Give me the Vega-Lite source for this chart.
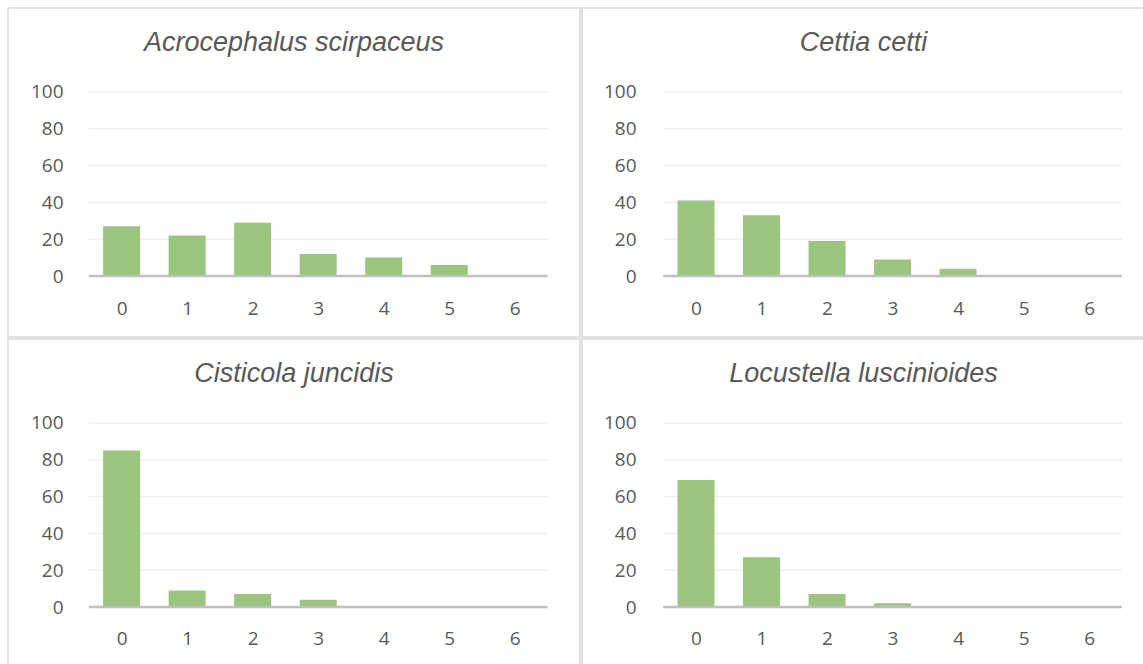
{
  "$schema": "https://vega.github.io/schema/vega-lite/v6.json",
  "padding": {"left": 7, "top": 7, "right": 0, "bottom": 0},
  "background": "white",
  "spacing": 0,
  "columns": 2,
  "data": {"values": [
    {"sp": "Acrocephalus scirpaceus", "k": 0, "v": 27},
    {"sp": "Acrocephalus scirpaceus", "k": 1, "v": 22},
    {"sp": "Acrocephalus scirpaceus", "k": 2, "v": 29},
    {"sp": "Acrocephalus scirpaceus", "k": 3, "v": 12},
    {"sp": "Acrocephalus scirpaceus", "k": 4, "v": 10},
    {"sp": "Acrocephalus scirpaceus", "k": 5, "v": 6},
    {"sp": "Acrocephalus scirpaceus", "k": 6, "v": 0},
    {"sp": "Cettia cetti", "k": 0, "v": 41},
    {"sp": "Cettia cetti", "k": 1, "v": 33},
    {"sp": "Cettia cetti", "k": 2, "v": 19},
    {"sp": "Cettia cetti", "k": 3, "v": 9},
    {"sp": "Cettia cetti", "k": 4, "v": 4},
    {"sp": "Cettia cetti", "k": 5, "v": 0},
    {"sp": "Cettia cetti", "k": 6, "v": 0},
    {"sp": "Cisticola juncidis", "k": 0, "v": 85},
    {"sp": "Cisticola juncidis", "k": 1, "v": 9},
    {"sp": "Cisticola juncidis", "k": 2, "v": 7},
    {"sp": "Cisticola juncidis", "k": 3, "v": 4},
    {"sp": "Cisticola juncidis", "k": 4, "v": 0.5},
    {"sp": "Cisticola juncidis", "k": 5, "v": 0},
    {"sp": "Cisticola juncidis", "k": 6, "v": 0},
    {"sp": "Locustella luscinioides", "k": 0, "v": 69},
    {"sp": "Locustella luscinioides", "k": 1, "v": 27},
    {"sp": "Locustella luscinioides", "k": 2, "v": 7},
    {"sp": "Locustella luscinioides", "k": 3, "v": 2},
    {"sp": "Locustella luscinioides", "k": 4, "v": 0.5},
    {"sp": "Locustella luscinioides", "k": 5, "v": 0},
    {"sp": "Locustella luscinioides", "k": 6, "v": 0}
  ]},
  "concat": [
    {
      "width": 572, "height": 329,
      "title": {"text": "Acrocephalus scirpaceus", "offset": -70, "baseline": "alphabetic"},
      "layer": [
        {"data": {"values": [{"g": 20}, {"g": 40}, {"g": 60}, {"g": 80}, {"g": 100}]},
         "mark": {"type": "rule", "color": "#efefef", "strokeWidth": 1.5},
         "encoding": {"y": {"field": "g", "type": "quantitative"}, "x": {"datum": -0.5, "type": "quantitative"}, "x2": {"datum": 6.5}}},
        {"transform": [{"filter": "datum.sp === 'Acrocephalus scirpaceus'"}],
         "mark": {"type": "bar", "width": 37, "color": "#9BC57E", "orient": "vertical"},
         "encoding": {
           "x": {"field": "k", "type": "quantitative", "scale": {"domain": [-1.657, 6.919], "nice": false, "zero": false}, "axis": {"values": [0, 1, 2, 3, 4, 5, 6], "format": "d", "offset": -38, "title": null}},
           "y": {"field": "v", "type": "quantitative", "stack": null, "scale": {"domain": [-33.15, 145.65], "nice": false, "zero": false}, "axis": {"values": [0, 20, 40, 60, 80, 100], "format": "d", "offset": -59, "title": null}},
           "y2": {"datum": 0}}},
        {"data": {"values": [{}]},
         "mark": {"type": "rule", "color": "#bfbfbf", "strokeWidth": 2.5},
         "encoding": {"y": {"datum": 0, "type": "quantitative"}, "x": {"datum": -0.5, "type": "quantitative"}, "x2": {"datum": 6.5}}}
      ]
    },
    {
      "width": 563, "height": 329,
      "title": {"text": "Cettia cetti", "offset": -70, "baseline": "alphabetic"},
      "layer": [
        {"data": {"values": [{"g": 20}, {"g": 40}, {"g": 60}, {"g": 80}, {"g": 100}]},
         "mark": {"type": "rule", "color": "#efefef", "strokeWidth": 1.5},
         "encoding": {"y": {"field": "g", "type": "quantitative"}, "x": {"datum": -0.5, "type": "quantitative"}, "x2": {"datum": 6.5}}},
        {"transform": [{"filter": "datum.sp === 'Cettia cetti'"}],
         "mark": {"type": "bar", "width": 37, "color": "#9BC57E", "orient": "vertical"},
         "encoding": {
           "x": {"field": "k", "type": "quantitative", "scale": {"domain": [-1.664, 6.777], "nice": false, "zero": false}, "axis": {"values": [0, 1, 2, 3, 4, 5, 6], "format": "d", "offset": -38, "title": null}},
           "y": {"field": "v", "type": "quantitative", "stack": null, "scale": {"domain": [-33.15, 145.65], "nice": false, "zero": false}, "axis": {"values": [0, 20, 40, 60, 80, 100], "format": "d", "offset": -58, "title": null}},
           "y2": {"datum": 0}}},
        {"data": {"values": [{}]},
         "mark": {"type": "rule", "color": "#bfbfbf", "strokeWidth": 2.5},
         "encoding": {"y": {"datum": 0, "type": "quantitative"}, "x": {"datum": -0.5, "type": "quantitative"}, "x2": {"datum": 6.5}}}
      ]
    },
    {
      "width": 572, "height": 326,
      "title": {"text": "Cisticola juncidis", "offset": -70, "baseline": "alphabetic"},
      "layer": [
        {"data": {"values": [{"g": 20}, {"g": 40}, {"g": 60}, {"g": 80}, {"g": 100}]},
         "mark": {"type": "rule", "color": "#efefef", "strokeWidth": 1.5},
         "encoding": {"y": {"field": "g", "type": "quantitative"}, "x": {"datum": -0.5, "type": "quantitative"}, "x2": {"datum": 6.5}}},
        {"transform": [{"filter": "datum.sp === 'Cisticola juncidis'"}],
         "mark": {"type": "bar", "width": 37, "color": "#9BC57E", "orient": "vertical"},
         "encoding": {
           "x": {"field": "k", "type": "quantitative", "scale": {"domain": [-1.657, 6.919], "nice": false, "zero": false}, "axis": {"values": [0, 1, 2, 3, 4, 5, 6], "format": "d", "offset": -36, "title": null}},
           "y": {"field": "v", "type": "quantitative", "stack": null, "scale": {"domain": [-31.52, 145.65], "nice": false, "zero": false}, "axis": {"values": [0, 20, 40, 60, 80, 100], "format": "d", "offset": -59, "title": null}},
           "y2": {"datum": 0}}},
        {"data": {"values": [{}]},
         "mark": {"type": "rule", "color": "#bfbfbf", "strokeWidth": 2.5},
         "encoding": {"y": {"datum": 0, "type": "quantitative"}, "x": {"datum": -0.5, "type": "quantitative"}, "x2": {"datum": 6.5}}}
      ]
    },
    {
      "width": 563, "height": 326,
      "title": {"text": "Locustella luscinioides", "offset": -70, "baseline": "alphabetic"},
      "layer": [
        {"data": {"values": [{"g": 20}, {"g": 40}, {"g": 60}, {"g": 80}, {"g": 100}]},
         "mark": {"type": "rule", "color": "#efefef", "strokeWidth": 1.5},
         "encoding": {"y": {"field": "g", "type": "quantitative"}, "x": {"datum": -0.5, "type": "quantitative"}, "x2": {"datum": 6.5}}},
        {"transform": [{"filter": "datum.sp === 'Locustella luscinioides'"}],
         "mark": {"type": "bar", "width": 37, "color": "#9BC57E", "orient": "vertical"},
         "encoding": {
           "x": {"field": "k", "type": "quantitative", "scale": {"domain": [-1.664, 6.777], "nice": false, "zero": false}, "axis": {"values": [0, 1, 2, 3, 4, 5, 6], "format": "d", "offset": -36, "title": null}},
           "y": {"field": "v", "type": "quantitative", "stack": null, "scale": {"domain": [-31.52, 145.65], "nice": false, "zero": false}, "axis": {"values": [0, 20, 40, 60, 80, 100], "format": "d", "offset": -58, "title": null}},
           "y2": {"datum": 0}}},
        {"data": {"values": [{}]},
         "mark": {"type": "rule", "color": "#bfbfbf", "strokeWidth": 2.5},
         "encoding": {"y": {"datum": 0, "type": "quantitative"}, "x": {"datum": -0.5, "type": "quantitative"}, "x2": {"datum": 6.5}}}
      ]
    }
  ],
  "config": {
    "view": {"stroke": "#d9d9d9", "strokeWidth": 1.5},
    "axis": {"grid": false, "domain": false, "ticks": false, "labelFont": "Open Sans", "labelFontSize": 19, "labelColor": "#595959", "labelPadding": 4},
    "axisX": {"labelPadding": 0, "labelBaseline": "top"},
    "title": {"font": "Liberation Sans", "fontStyle": "italic", "fontWeight": "normal", "fontSize": 27, "color": "#595959", "anchor": "middle", "frame": "group"}
  }
}
